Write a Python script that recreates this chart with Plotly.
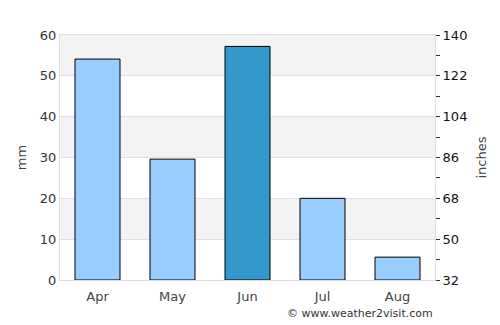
import plotly.graph_objects as go

months = ["Apr", "May", "Jun", "Jul", "Aug"]
rain_mm = [54.1, 29.6, 57.2, 20.0, 5.6]
bar_colors = ["#99ccff", "#99ccff", "#3399cc", "#99ccff", "#99ccff"]
left_ticks = [0, 10, 20, 30, 40, 50, 60]
right_major = [32, 50, 68, 86, 104, 122, 140]
right_all = [32, 41, 50, 59, 68, 77, 86, 95, 104, 113, 122, 131, 140]

FONT = "DejaVu Sans"

fig = go.Figure()
fig.add_trace(go.Bar(
    x=months, y=rain_mm, marker=dict(color=bar_colors, line=dict(color="#000000", width=1)),
    width=0.6, hoverinfo="skip", showlegend=False))
fig.add_trace(go.Scatter(x=[months[0]], y=[None], yaxis="y2", mode="markers",
                         showlegend=False, hoverinfo="skip"))

# alternating bands
for lo in range(10, 60, 20):
    fig.add_shape(type="rect", xref="paper", yref="y", x0=0, x1=1, y0=lo, y1=lo + 10,
                  fillcolor="#f3f3f3", line_width=0, layer="below")

fig.update_layout(
    width=500, height=325,
    margin=dict(l=60, r=65, t=35, b=45),
    paper_bgcolor="white", plot_bgcolor="white",
    font=dict(family=FONT, size=13, color="#333333"),
    bargap=0.4,
    xaxis=dict(showgrid=False, showline=True, linecolor="#dddddd", mirror=True,
               ticks="", ticklabelstandoff=4, tickfont=dict(size=13, color="#444444")),
    yaxis=dict(range=[0, 60], tickvals=left_ticks, showgrid=True, gridcolor="#e0e0e0",
               gridwidth=1, zeroline=False, showline=True, linecolor="#dddddd", mirror=True,
               ticks="", title=dict(text="mm", font=dict(size=13, color="#444444"), standoff=10),
               tickfont=dict(size=13, color="#333333")),
    yaxis2=dict(range=[32, 140], overlaying="y", side="right", tickvals=right_all,
                ticktext=[str(v) if v in right_major else "" for v in right_all],
                showgrid=False, zeroline=False, ticks="outside", ticklen=4, tickcolor="#333333",
                title=dict(text="inches", font=dict(size=13, color="#444444"), standoff=10),
                tickfont=dict(size=13, color="#111111")),
)
fig.add_annotation(text="© www.weather2visit.com", xref="paper", yref="paper",
                   x=1, y=-0.135, xanchor="right", yanchor="middle", showarrow=False,
                   font=dict(size=11, color="#333333", family=FONT))

fig.write_html("out.html")
